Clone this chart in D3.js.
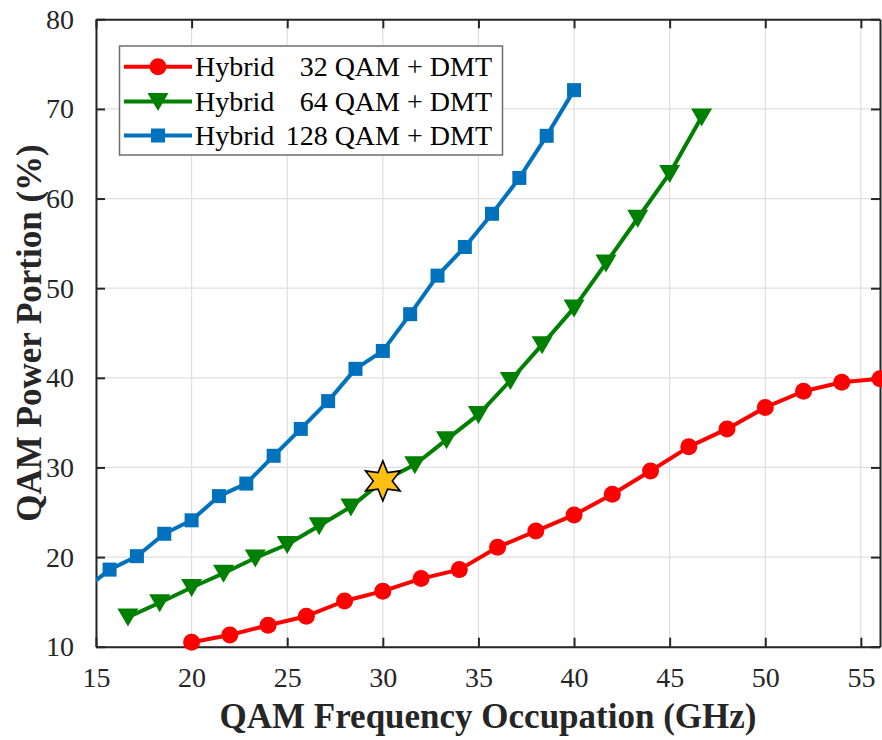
<!DOCTYPE html>
<html>
<head>
<meta charset="utf-8">
<script src="https://cdn.jsdelivr.net/npm/d3@7"></script>
<style>
  html, body { margin: 0; padding: 0; background: #fff; }
  svg { display: block; }
  svg text { font-family: "Liberation Serif", "Times New Roman", serif; }
</style>
</head>
<body>
<svg id="chart" width="882" height="740"></svg>
<script>
// Occupied QAM bandwidth (GHz) and the QAM share of total power (%)
const x32 = [20, 22, 24, 26, 28, 30, 32, 34, 36, 38, 40, 42, 44, 46, 48, 50, 52, 54, 56];
const y32 = [10.5, 11.3, 12.4, 13.4, 15.1, 16.2, 17.6, 18.6, 21.1, 22.9, 24.7, 27.0, 29.6, 32.3, 34.3, 36.7, 38.5, 39.5, 39.9];

const x64 = [16.67, 18.33, 20, 21.67, 23.33, 25, 26.67, 28.33, 30, 31.67, 33.33, 35, 36.67, 38.33, 40, 41.67, 43.33, 45, 46.67];
const y64 = [13.3, 14.9, 16.6, 18.2, 19.9, 21.4, 23.5, 25.6, 28.5, 30.3, 33.1, 35.9, 39.7, 43.7, 47.8, 52.8, 57.8, 62.8, 69.1];

const x128 = [14.29, 15.71, 17.14, 18.57, 20, 21.43, 22.86, 24.29, 25.71, 27.14, 28.57, 30, 31.43, 32.86, 34.29, 35.71, 37.14, 38.57, 40];
const y128 = [16.2, 18.6, 20.1, 22.6, 24.1, 26.8, 28.2, 31.3, 34.3, 37.4, 41.0, 43.0, 47.1, 51.4, 54.6, 58.3, 62.3, 67.0, 72.1];

// Highlighted operating point
const starPoint = [30, 28.5];

const xTicks = [15, 20, 25, 30, 35, 40, 45, 50, 55];
const yTicks = [10, 20, 30, 40, 50, 60, 70, 80];

const seriesNames = ["32", "64", "128"];
const seriesColors = ["#ff0000", "#008000", "#0072bd"];
const seriesMarkers = ["circle", "triangle", "square"];

const xLabel = "QAM Frequency Occupation (GHz)";
const yLabel = "QAM Power Portion (%)";

const series = [
  { name: seriesNames[0], color: seriesColors[0], marker: seriesMarkers[0], pts: x32.map((d, i) => [d, y32[i]]) },
  { name: seriesNames[1], color: seriesColors[1], marker: seriesMarkers[1], pts: x64.map((d, i) => [d, y64[i]]) },
  { name: seriesNames[2], color: seriesColors[2], marker: seriesMarkers[2], pts: x128.map((d, i) => [d, y128[i]]) }
];

const svg = d3.select("#chart");
const L = 96, R = 880, T = 19.3, B = 646.7;
const x = d3.scaleLinear().domain([15, 56]).range([L, R]);
const y = d3.scaleLinear().domain([10, 80]).range([B, T]);

const axisColor = "#262626";
const serif = "'Liberation Serif', 'Times New Roman', serif";

// grid
const grid = svg.append("g");
grid.selectAll("line.gx").data(xTicks).join("line")
  .attr("x1", d => x(d)).attr("x2", d => x(d)).attr("y1", T).attr("y2", B)
  .attr("stroke", "#dfdfdf").attr("stroke-width", 1.2);
grid.selectAll("line.gy").data(yTicks).join("line")
  .attr("y1", d => y(d)).attr("y2", d => y(d)).attr("x1", L).attr("x2", R)
  .attr("stroke", "#dfdfdf").attr("stroke-width", 1.2);

// axes (box with inward ticks on all four sides)
const tickLen = 9;
function styleAxis(g) {
  g.attr("font-family", serif).attr("font-size", 28);
  g.selectAll(".domain").attr("stroke", axisColor).attr("stroke-width", 2);
  g.selectAll(".tick line").attr("stroke", axisColor).attr("stroke-width", 2);
  g.selectAll(".tick text").attr("fill", "#262626");
}
const xAxisB = svg.append("g").attr("transform", `translate(0,${B})`)
  .call(d3.axisBottom(x).tickValues(xTicks).tickSizeInner(-tickLen).tickSizeOuter(0).tickPadding(20));
styleAxis(xAxisB);
const xAxisT = svg.append("g").attr("transform", `translate(0,${T})`)
  .call(d3.axisTop(x).tickValues(xTicks).tickSizeInner(-tickLen).tickSizeOuter(0).tickFormat(""));
styleAxis(xAxisT);
const yAxisL = svg.append("g").attr("transform", `translate(${L},0)`)
  .call(d3.axisLeft(y).tickValues(yTicks).tickSizeInner(-tickLen).tickSizeOuter(0).tickPadding(22));
styleAxis(yAxisL);
const yAxisR = svg.append("g").attr("transform", `translate(${R},0)`)
  .call(d3.axisRight(y).tickValues(yTicks).tickSizeInner(-tickLen).tickSizeOuter(0).tickFormat(""));
styleAxis(yAxisR);

// clip region for the curves
svg.append("defs").append("clipPath").attr("id", "plotClip")
  .append("rect").attr("x", L).attr("y", T).attr("width", R - L).attr("height", B - T);

const line = d3.line().x(d => x(d[0])).y(d => y(d[1]));

const trianglePath = "M-10.5,-8.5L10.5,-8.5L0,9.5Z";
function drawMarker(sel, type, color) {
  if (type === "circle") {
    sel.append("circle").attr("r", 8.5).attr("fill", color);
  } else if (type === "square") {
    sel.append("rect").attr("x", -7).attr("y", -7).attr("width", 14).attr("height", 14).attr("fill", color);
  } else {
    sel.append("path").attr("d", trianglePath).attr("fill", color);
  }
}

const inDomain = d => d[0] >= 15 && d[0] <= 56 && d[1] >= 10 && d[1] <= 80;

series.forEach(s => {
  const g = svg.append("g");
  g.append("path").datum(s.pts).attr("d", line)
    .attr("fill", "none").attr("stroke", s.color).attr("stroke-width", 4)
    .attr("stroke-linejoin", "round").attr("clip-path", "url(#plotClip)");
  g.selectAll("g.m").data(s.pts.filter(inDomain)).join("g")
    .attr("transform", d => `translate(${x(d[0])},${y(d[1])})`)
    .each(function() { drawMarker(d3.select(this), s.marker, s.color); });
});

// hexagram marker at the highlighted point
function hexagram(Ro, Ri) {
  const pts = [];
  for (let k = 0; k < 12; k++) {
    const a = -Math.PI / 2 + k * Math.PI / 6;
    const r = k % 2 === 0 ? Ro : Ri;
    pts.push([r * Math.cos(a), r * Math.sin(a)]);
  }
  return "M" + pts.map(p => p[0].toFixed(2) + "," + p[1].toFixed(2)).join("L") + "Z";
}
svg.append("path").attr("d", hexagram(20, 9.5))
  .attr("transform", `translate(${x(starPoint[0])},${y(starPoint[1])})`)
  .attr("fill", "#fdbf12").attr("stroke", "#000").attr("stroke-width", 1.6)
  .attr("stroke-linejoin", "miter");

// axis titles
svg.append("text").attr("x", (L + R) / 2).attr("y", 728)
  .attr("text-anchor", "middle").attr("font-weight", "bold").attr("font-size", 35)
  .attr("fill", "#262626").text(xLabel);
svg.append("text").attr("transform", `translate(41,${(T + B) / 2}) rotate(-90)`)
  .attr("text-anchor", "middle").attr("font-weight", "bold").attr("font-size", 35)
  .attr("fill", "#262626").text(yLabel);

// legend
const lg = svg.append("g");
lg.append("rect").attr("x", 119.5).attr("y", 46).attr("width", 383).attr("height", 109)
  .attr("fill", "#fff").attr("stroke", "#6e6e6e").attr("stroke-width", 1.5);
const rowY = [66.7, 101.5, 135.5];
series.forEach((s, i) => {
  const r = lg.append("g").attr("transform", `translate(0,${rowY[i]})`);
  r.append("line").attr("x1", 124).attr("x2", 192).attr("stroke", s.color).attr("stroke-width", 4);
  drawMarker(r.append("g").attr("transform", "translate(158,0)"), s.marker, s.color);
  r.append("text").attr("x", 195).attr("y", 9.5).attr("font-size", 28).attr("fill", "#000").text("Hybrid");
  r.append("text").attr("x", 492).attr("y", 9.5).attr("text-anchor", "end").attr("font-size", 28)
    .attr("fill", "#000").text(`${s.name} QAM + DMT`);
});
</script>
</body>
</html>
